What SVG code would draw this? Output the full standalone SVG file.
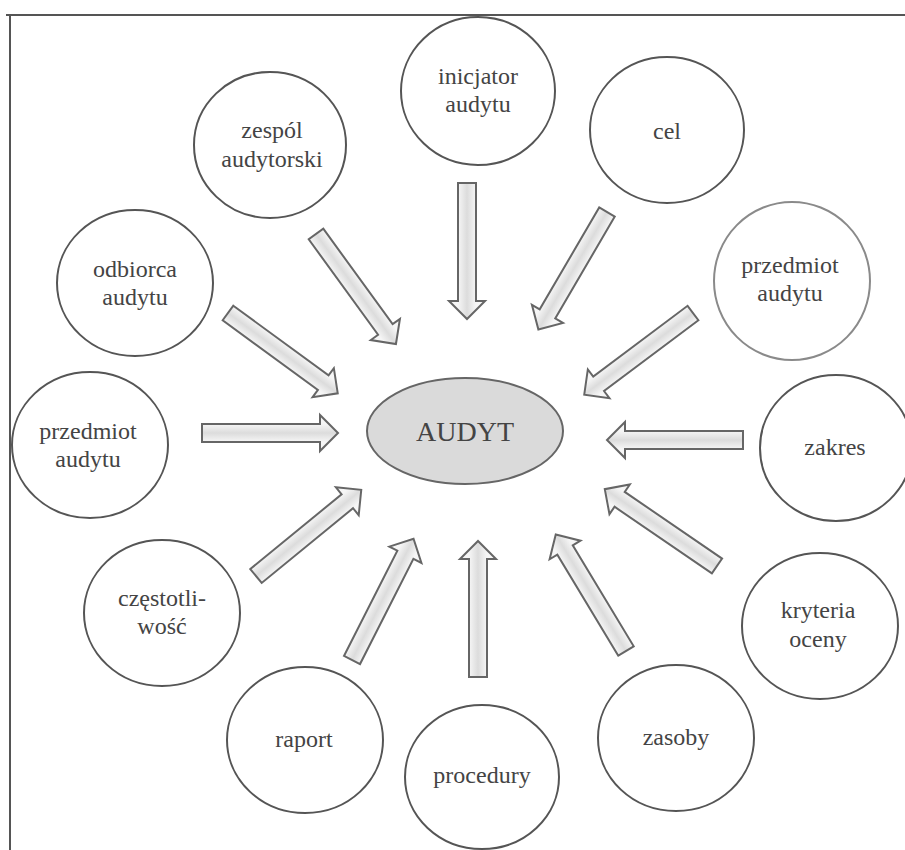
<svg xmlns="http://www.w3.org/2000/svg" xmlns:xlink="http://www.w3.org/1999/xlink" width="905" height="850" viewBox="0 0 905 850">
<style>
.frame{stroke:#555;stroke-width:2;fill:none}
.node ellipse{fill:#fff;stroke:#555;stroke-width:2}
.node.light ellipse{stroke:#8a8a8a}
.node text{font-family:"Liberation Serif","Times New Roman",serif;font-size:24px;fill:#444;text-anchor:middle}
#audyt ellipse{fill:#dadada;stroke:#666;stroke-width:2}
#audyt text{font-family:"Liberation Serif","Times New Roman",serif;font-size:28px;fill:#444;text-anchor:middle}
.arrow{fill:url(#shade);stroke:#666;stroke-width:2;stroke-linejoin:miter}
</style>
<defs>
<linearGradient id="shade" x1="0" y1="0" x2="0" y2="1">
<stop offset="0.25" stop-color="#f6f6f6"/>
<stop offset="0.5" stop-color="#dcdcdc"/>
<stop offset="0.75" stop-color="#f6f6f6"/>
</linearGradient>
<path id="arr" class="arrow" d="M0,-9 L118,-9 L118,-18 L136,0 L118,18 L118,9 L0,9 Z"/>
</defs>
<rect width="905" height="850" fill="#fff"/>
<path class="frame" d="M6,15 L905,15 M10,15 L10,850"/>

<g id="connectors">
<use xlink:href="#arr" transform="translate(467,183) rotate(90)"/>
<use xlink:href="#arr" transform="translate(316,234) rotate(54)"/>
<use xlink:href="#arr" transform="translate(607,212) rotate(120.3)"/>
<use xlink:href="#arr" transform="translate(228,313) rotate(36.2)"/>
<use xlink:href="#arr" transform="translate(693,313) rotate(143.1)"/>
<use xlink:href="#arr" transform="translate(202,433) rotate(0)"/>
<use xlink:href="#arr" transform="translate(743,440) rotate(180)"/>
<use xlink:href="#arr" transform="translate(256,576) rotate(-39.3)"/>
<use xlink:href="#arr" transform="translate(717,566) rotate(214.4)"/>
<use xlink:href="#arr" transform="translate(352,660) rotate(-63.1)"/>
<use xlink:href="#arr" transform="translate(478,677) rotate(-90)"/>
<use xlink:href="#arr" transform="translate(626,651) rotate(-121.1)"/>
</g>

<g id="audyt"><ellipse cx="465" cy="431" rx="98" ry="53"/><text x="465" y="441">AUDYT</text></g>

<g id="inicjator" class="node"><ellipse cx="478" cy="91" rx="77" ry="74"/><text x="478" y="84">inicjator</text><text x="478" y="112">audytu</text></g>
<g id="zespol" class="node"><ellipse cx="270" cy="145" rx="76" ry="73"/><text x="272" y="138">zespól</text><text x="272" y="167">audytorski</text></g>
<g id="cel" class="node"><ellipse cx="667" cy="130" rx="77" ry="73"/><text x="667" y="139">cel</text></g>
<g id="odbiorca" class="node"><ellipse cx="135" cy="283" rx="78" ry="73"/><text x="135" y="277">odbiorca</text><text x="135" y="305">audytu</text></g>
<g id="przedmiot-prawy" class="node light"><ellipse cx="792" cy="281" rx="78" ry="79"/><text x="790" y="273">przedmiot</text><text x="790" y="301">audytu</text></g>
<g id="przedmiot-lewy" class="node"><ellipse cx="90" cy="445" rx="78" ry="73"/><text x="88" y="439">przedmiot</text><text x="88" y="467">audytu</text></g>
<g id="zakres" class="node"><ellipse cx="836" cy="448" rx="76" ry="73"/><text x="835" y="455">zakres</text></g>
<g id="czestotliwosc" class="node"><ellipse cx="162" cy="613" rx="78" ry="73"/><text x="162" y="606">częstotli-</text><text x="162" y="634">wość</text></g>
<g id="kryteria" class="node"><ellipse cx="820" cy="626" rx="78" ry="73"/><text x="818" y="618">kryteria</text><text x="818" y="647">oceny</text></g>
<g id="raport" class="node"><ellipse cx="305" cy="740" rx="78" ry="73"/><text x="304" y="747">raport</text></g>
<g id="procedury" class="node"><ellipse cx="482" cy="777" rx="77" ry="72"/><text x="482" y="783">procedury</text></g>
<g id="zasoby" class="node"><ellipse cx="676" cy="738" rx="78" ry="73"/><text x="676" y="745">zasoby</text></g>
</svg>
